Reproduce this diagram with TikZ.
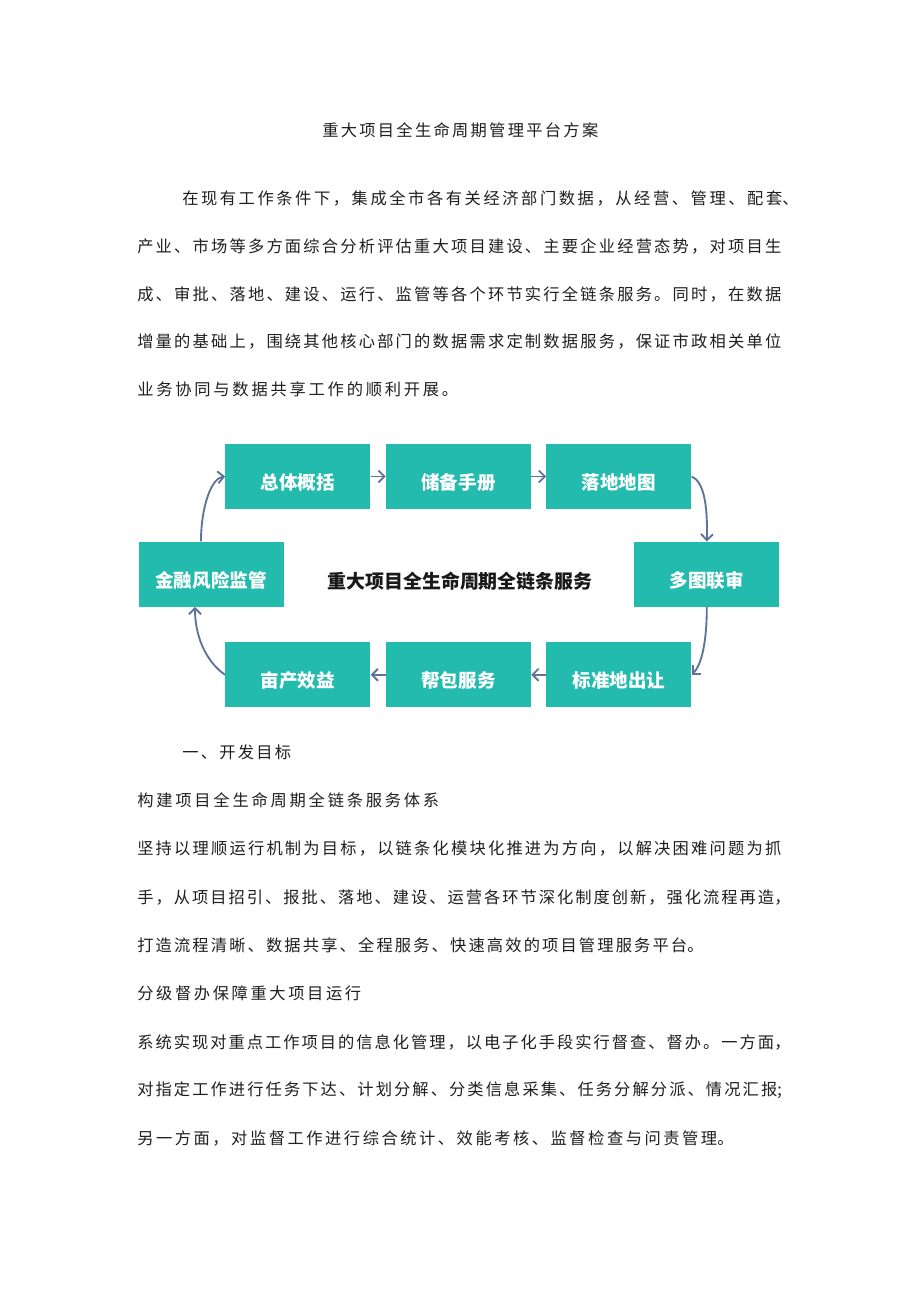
\documentclass[tikz,border=0pt]{standalone}
\usepackage{fontspec}
\newfontfamily\cjk{Noto Sans CJK SC}
\usetikzlibrary{arrows.meta,calc}
\newdimen\mypx \mypx=0.75pt
\ExplSyntaxOn
\NewDocumentCommand\jline{mm}{\hbox to #1\mypx{\tl_map_inline:nn{#2}{##1\hfil}\unskip}}
\ExplSyntaxOff
\definecolor{boxteal}{RGB}{36,187,175}
\definecolor{arrblue}{RGB}{95,115,155}
\begin{document}
\begin{tikzpicture}[x={(0.75pt,0)},y={(0,-0.75pt)},
  body/.style={anchor=west,inner sep=0pt,font=\cjk\fontsize{12.2pt}{14pt}\selectfont,text=black!88},
  stagebox/.style={rectangle,fill=boxteal,minimum width=108.75pt,minimum height=48.75pt,inner sep=0pt},
  stagetext/.style={inner sep=0pt,font=\cjk\bfseries\fontsize{13.9pt}{15pt}\selectfont,text=white},
  arr/.style={draw=arrblue,line width=1.4pt,-{Straight Barb[length=4.5pt,width=9pt]}}]
\fill[white] (0,0) rectangle (920,1301);
\useasboundingbox (0,0) rectangle (920,1301);
% title and first paragraph
\node[body] (title) at (322,130) {\jline{276}{重大项目全生命周期管理平台方案}};
\node[body] (p1a) at (182,198) {\jline{600}{在现有工作条件下，集成全市各有关经济部门数据，从经营、管理、配套}、};
\node[body] (p1b) at (137,246.5) {\jline{644}{产业、市场等多方面综合分析评估重大项目建设、主要企业经营态势，对项目生}};
\node[body] (p1c) at (137,294) {\jline{644}{成、审批、落地、建设、运行、监管等各个环节实行全链条服务。同时，在数据}};
\node[body] (p1d) at (137,341.5) {\jline{644}{增量的基础上，围绕其他核心部门的数据需求定制数据服务，保证市政相关单位}};
\node[body] (p1e) at (137,389) {\jline{321}{业务协同与数据共享工作的顺利开展。}};
% diagram boxes
\node[stagebox] (b1) at (297.9,476.5) {};
\node[stagebox] (b2) at (458.5,476.5) {};
\node[stagebox] (b3) at (618.9,476.5) {};
\node[stagebox] (b4) at (706.8,574.2) {};
\node[stagebox] (b5) at (618.9,674.8) {};
\node[stagebox] (b6) at (458.5,674.8) {};
\node[stagebox] (b7) at (297.9,674.8) {};
\node[stagebox] (b8) at (211,574.2) {};
\node[stagetext] (t1) at ($(b1)+(0,6)$) {总体概括};
\node[stagetext] (t2) at ($(b2)+(0,6)$) {储备手册};
\node[stagetext] (t3) at ($(b3)+(0,6)$) {落地地图};
\node[stagetext] (t4) at ($(b4)+(0,6)$) {多图联审};
\node[stagetext] (t5) at ($(b5)+(0,6)$) {标准地出让};
\node[stagetext] (t6) at ($(b6)+(0,6)$) {帮包服务};
\node[stagetext] (t7) at ($(b7)+(0,6)$) {亩产效益};
\node[stagetext] (t8) at ($(b8)+(0,6)$) {金融风险监管};
\node[inner sep=0pt,font=\cjk\bfseries\fontsize{14.2pt}{16pt}\selectfont,text=black!90] (ctr) at (460,581) {重大项目全生命周期全链条服务};
% connectors
\draw[arr] (b1.east) -- (b2.west);
\draw[arr] (b2.east) -- (b3.west);
\draw[arr] (b3.east) .. controls +(12,5) and +(1,-37) .. (b4.north);
\draw[arr] (b4.south) .. controls +(0,35) and +(10,-10) .. (b5.east);
\draw[arr] (b5.west) -- (b6.east);
\draw[arr] (b6.west) -- (b7.east);
\coordinate (b8s) at ($(b8.south)+(-16,0)$);
\coordinate (b8n) at ($(b8.north)+(-10,0)$);
\draw[arr] (b7.west) .. controls +(-15,-10) and +(0,35) .. (b8s);
\draw[arr] (b8n) .. controls +(0,-35) and +(-13.7,1.5) .. (b1.west);
% second part
\node[body] (h1) at (182,752) {\jline{109}{一、开发目标}};
\node[body] (h2) at (137,800) {\jline{302}{构建项目全生命周期全链条服务体系}};
\node[body] (q1) at (137,848) {\jline{644}{坚持以理顺运行机制为目标，以链条化模块化推进为方向，以解决困难问题为抓}};
\node[body] (q2) at (137,897) {\jline{637}{手，从项目招引、报批、落地、建设、运营各环节深化制度创新，强化流程再造}，};
\node[body] (q3) at (137,945) {\jline{550}{打造流程清晰、数据共享、全程服务、快速高效的项目管理服务平台}。};
\node[body] (h3) at (137,993) {\jline{224}{分级督办保障重大项目运行}};
\node[body] (r1) at (137,1042) {\jline{637}{系统实现对重点工作项目的信息化管理，以电子化手段实行督查、督办。一方面}，};
\node[body] (r2) at (137,1090) {\jline{640}{对指定工作进行任务下达、计划分解、分类信息采集、任务分解分派、情况汇报};};
\node[body] (r3) at (137,1138) {\jline{580}{另一方面，对监督工作进行综合统计、效能考核、监督检查与问责管理}。};
\end{tikzpicture}
\end{document}
